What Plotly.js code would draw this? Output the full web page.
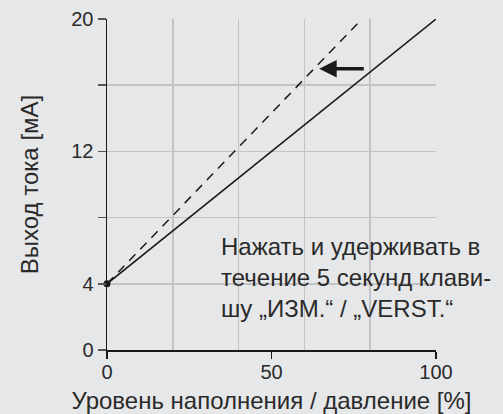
<!DOCTYPE html>
<html><head><meta charset="utf-8">
<script src="https://cdn.plot.ly/plotly-3.0.1.min.js"></script>
<style>html,body{margin:0;padding:0;background:#e6e7e9;}</style>
</head><body>
<div id="chart" style="width:503px;height:414px;"></div>
<script>
const solidX = [0, 100];
const solidY = [4, 20];
const dashedX = [0, 77.5];
const dashedY = [4, 20];
const pointX = [0];
const pointY = [4];
const xTickVals = [0, 50, 100];
const xTickText = ['0', '50', '100'];
const xGridVals = [20, 40, 60, 80, 100];
const yTickVals = [0, 4, 8, 12, 16, 20];
const yTickText = ['0', '4', '', '12', '', '20'];
const arrowFrom = [78.5, 17];
const arrowTo = [64.5, 17];
const noteText = 'Нажать и удерживать в<br>течение 5 секунд клави-<br>шу „ИЗМ.“ / „VERST.“';

const font = "'Liberation Sans', Arial, Helvetica, sans-serif";
const data = [
  {x: dashedX, y: dashedY, mode: 'lines', line: {color: '#1a1a1a', width: 1.5, dash: '9px,7px'}, hoverinfo: 'skip'},
  {x: solidX, y: solidY, mode: 'lines', line: {color: '#1a1a1a', width: 1.5}, hoverinfo: 'skip'},
  {x: pointX, y: pointY, mode: 'markers', marker: {color: '#1a1a1a', size: 7}, cliponaxis: false, hoverinfo: 'skip'},
  {x: [50], y: [10], xaxis: 'x2', mode: 'markers', marker: {opacity: 0}, hoverinfo: 'skip'}
];
const layout = {
  width: 503, height: 414,
  paper_bgcolor: '#e6e7e9', plot_bgcolor: '#e6e7e9',
  margin: {l: 107, r: 67, t: 19, b: 64},
  showlegend: false,
  font: {family: font, color: '#2a2a2a', size: 20},
  xaxis: {
    range: [0, 100], tickvals: xTickVals, ticktext: xTickText,
    showgrid: false, zeroline: false, showline: true, linecolor: '#1a1a1a', linewidth: 1.5,
    ticks: 'outside', ticklen: 7, tickwidth: 1.5, tickcolor: '#1a1a1a', ticklabelstandoff: -4,
    tickfont: {size: 20, color: '#2a2a2a', family: font},
    title: {text: 'Уровень наполнения / давление [%]', font: {size: 24, color: '#2a2a2a', family: font}, standoff: 12}
  },
  xaxis2: {
    range: [0, 100], overlaying: 'x', tickvals: xGridVals, showticklabels: false, ticks: '',
    showgrid: true, gridcolor: '#c2c3c5', gridwidth: 1.5, zeroline: false, showline: false
  },
  yaxis: {
    range: [0, 20], tickvals: yTickVals, ticktext: yTickText,
    showgrid: true, gridcolor: '#c2c3c5', gridwidth: 1.5, zeroline: false,
    showline: true, linecolor: '#1a1a1a', linewidth: 1.5,
    ticks: 'outside', ticklen: 8, tickwidth: 1.5, tickcolor: '#555',
    tickfont: {size: 20, color: '#2a2a2a', family: font},
    title: {text: 'Выход тока [мА]', font: {size: 24, color: '#2a2a2a', family: font}, standoff: 26}
  },
  annotations: [
    {x: arrowTo[0], y: arrowTo[1], ax: arrowFrom[0], ay: arrowFrom[1], axref: 'x', ayref: 'y',
     xref: 'x', yref: 'y', text: '', showarrow: true, arrowhead: 2, arrowsize: 1, arrowwidth: 3.5, arrowcolor: '#1a1a1a'},
    {x: 34, y: 4.4, xref: 'x', yref: 'y', xanchor: 'left', yanchor: 'middle', align: 'left',
     text: noteText, showarrow: false, font: {size: 24, color: '#2a2a2a', family: font}}
  ]
};
Plotly.newPlot('chart', data, layout, {staticPlot: true});
</script>
</body></html>
